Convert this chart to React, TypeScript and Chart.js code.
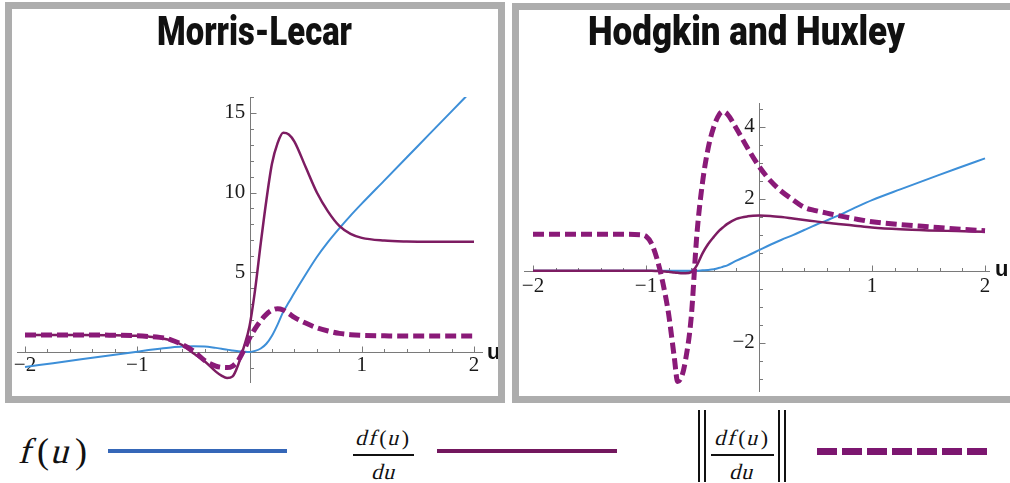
import React, { useEffect, useRef } from 'react';
import { Chart, registerables } from 'chart.js';

Chart.register(...registerables);

// ---------------- Data ----------------
const mlTitle = 'Morris-Lecar';
const hhTitle = 'Hodgkin and Huxley';

const mlU = [-2, -1.75, -1.5, -1.25, -1, -0.9, -0.8, -0.7, -0.6, -0.5, -0.4, -0.3, -0.25, -0.2, -0.15, -0.1, -0.05, 0, 0.05, 0.1, 0.15, 0.2, 0.25, 0.3, 0.35, 0.4, 0.5, 0.6, 0.7, 0.8, 0.9, 1.0, 1.2, 1.4, 1.6, 1.8, 2.0];
const mlF = [-0.96, -0.72, -0.48, -0.24, 0.0, 0.1, 0.19, 0.27, 0.33, 0.35, 0.33, 0.24, 0.19, 0.13, 0.08, 0.03, 0.0, -0.02, 0.05, 0.2, 0.5, 1.0, 1.7, 2.5, 3.1, 3.7, 4.85, 5.95, 6.9, 7.75, 8.55, 9.3, 10.75, 12.2, 13.65, 15.1, 16.55];
const mlDf = [1.05, 1.05, 1.05, 1.04, 1.0, 0.95, 0.87, 0.72, 0.42, -0.1, -0.6, -1.25, -1.5, -1.65, -1.55, -0.8, 0.3, 1.6, 3.9, 6.8, 9.5, 11.8, 13.1, 13.75, 13.65, 13.2, 11.6, 10.0, 8.8, 7.9, 7.4, 7.15, 6.98, 6.92, 6.9, 6.9, 6.9];
const mlAbsDf = [1.05, 1.05, 1.05, 1.04, 1.0, 0.96, 0.9, 0.75, 0.45, 0.05, -0.55, -0.9, -0.98, -1.0, -0.9, -0.55, 0.1, 0.85, 1.45, 1.95, 2.35, 2.6, 2.7, 2.62, 2.4, 2.15, 1.8, 1.5, 1.3, 1.15, 1.07, 1.03, 1.0, 0.98, 0.98, 0.98, 0.98];

const hhU = [-2, -1.5, -1.2, -1.05, -1.0, -0.95, -0.9, -0.85, -0.8, -0.75, -0.72, -0.68, -0.65, -0.6, -0.55, -0.5, -0.45, -0.4, -0.35, -0.32, -0.28, -0.2, -0.1, 0, 0.1, 0.2, 0.3, 0.4, 0.5, 0.6, 0.7, 0.85, 1.0, 1.25, 1.5, 1.75, 2.0];
const hhF = [0, 0, 0, 0, 0, 0, 0, 0, 0, 0, 0, 0, 0, 0, 0, 0.01, 0.02, 0.04, 0.08, 0.11, 0.15, 0.28, 0.42, 0.57, 0.72, 0.86, 0.99, 1.13, 1.27, 1.4, 1.53, 1.75, 1.96, 2.26, 2.55, 2.84, 3.12];
const hhDf = [0, 0, 0, 0, 0, 0, -0.01, -0.02, -0.03, -0.05, -0.06, -0.07, -0.07, -0.04, 0.15, 0.48, 0.74, 0.94, 1.12, 1.2, 1.3, 1.44, 1.51, 1.53, 1.52, 1.49, 1.45, 1.41, 1.37, 1.33, 1.3, 1.25, 1.2, 1.15, 1.12, 1.1, 1.08];
const hhAbsDf = [1.01, 1.01, 1.01, 1.0, 0.96, 0.75, 0.3, -0.35, -1.2, -2.4, -3.08, -2.9, -2.48, -1.3, 1.0, 2.45, 3.4, 4.0, 4.35, 4.42, 4.35, 3.95, 3.4, 2.9, 2.5, 2.2, 1.97, 1.76, 1.67, 1.6, 1.53, 1.44, 1.36, 1.28, 1.22, 1.16, 1.11];

const mlXLabels = [-2, -1, 1, 2];
const mlYLabels = [5, 10, 15];
const hhXLabels = [-2, -1, 1, 2];
const hhYLabels = [-2, 2, 4];

const steps = (from: number, to: number, step: number) => {
  const out: number[] = [];
  const n = Math.round((to - from) / step);
  for (let i = 0; i <= n; i++) {
    const v = Math.round((from + i * step) * 1000) / 1000;
    if (v !== 0) out.push(v);
  }
  return out;
};
const mlXTicks = steps(-2, 2, 0.2);
const mlYTicks = steps(-1, 16, 1);
const hhXTicks = steps(-2, 2, 0.2);
const hhYTicks = steps(-3, 4.5, 0.5);

// ---------------- Styles ----------------
const BLUE = '#3d8fd8';
const PURPLE = '#7d1c62';
const DASHED = '#8a1a78';
const AXIS = '#7a7a7a';
const LEG_BLUE = '#3567b8';
const LEG_PURPLE = '#73175e';
const LEG_DASHED = '#7c1670';
const FRAME = '#adadad';

const fmt = (v: number) => (v < 0 ? '\u2212' + Math.abs(v) : String(v));

type Spec = {
  title: string;
  u: number[]; f: number[]; df: number[]; abs: number[];
  xLabels: number[]; yLabels: number[]; xTicks: number[]; yTicks: number[];
  xMin: number; xMax: number; yMin: number; yMax: number;
  padding: { left: number; right: number; top: number; bottom: number };
  width: number; height: number;
  titleX: number; titleY: number; titleW: number;
  uDx: number; uDy: number; xPad: number;
};

function makeDecor(spec: Spec) {
  return {
    id: 'panelDecor',
    beforeDatasetsDraw(chart: any) {
      const { ctx, chartArea: a, scales } = chart;
      const xs = scales.x, ys = scales.y;
      const x0 = Math.round(xs.getPixelForValue(0)) + 0.5;
      const y0 = Math.round(ys.getPixelForValue(0)) + 0.5;
      ctx.save();
      ctx.strokeStyle = AXIS;
      ctx.lineWidth = 1;
      ctx.beginPath();
      ctx.moveTo(a.left, y0); ctx.lineTo(a.right, y0);
      ctx.moveTo(x0, a.top); ctx.lineTo(x0, a.bottom);
      for (const v of spec.xTicks) {
        const px = Math.round(xs.getPixelForValue(v)) + 0.5;
        const len = spec.xLabels.includes(v) ? 6 : 3.5;
        ctx.moveTo(px, y0); ctx.lineTo(px, y0 - len);
      }
      for (const v of spec.yTicks) {
        const py = Math.round(ys.getPixelForValue(v)) + 0.5;
        const len = spec.yLabels.includes(v) ? 6 : 3.5;
        ctx.moveTo(x0, py); ctx.lineTo(x0 + len, py);
      }
      ctx.stroke();
      ctx.restore();
    },
    afterDraw(chart: any) {
      const { ctx, chartArea: a, scales } = chart;
      const y0 = scales.y.getPixelForValue(0);
      ctx.save();
      ctx.font = '900 41px Roboto, "Liberation Sans", sans-serif';
      ctx.fillStyle = '#111';
      ctx.textBaseline = 'alphabetic';
      ctx.textAlign = 'left';
      const w = ctx.measureText(spec.title).width;
      ctx.translate(spec.titleX, spec.titleY);
      ctx.scale(spec.titleW / w, 1);
      ctx.fillText(spec.title, -w / 2, 0);
      ctx.restore();
      ctx.save();
      ctx.font = 'bold 22px "Liberation Sans", Arial, sans-serif';
      ctx.fillStyle = '#111';
      ctx.textBaseline = 'alphabetic';
      ctx.textAlign = 'left';
      ctx.fillText('u', a.right + spec.uDx, y0 + spec.uDy);
      ctx.restore();
    },
  };
}

function makeConfig(spec: Spec): any {
  const pts = (ys: number[]) => spec.u.map((u, i) => ({ x: u, y: ys[i] }));
  const tickFont = { family: '"Liberation Serif", "Times New Roman", serif', size: 21 };
  return {
    type: 'line',
    data: {
      datasets: [
        { label: 'f(u)', data: pts(spec.f), borderColor: BLUE, borderWidth: 2, pointRadius: 0, fill: false, cubicInterpolationMode: 'monotone', order: 3 },
        { label: 'df/du', data: pts(spec.df), borderColor: PURPLE, borderWidth: 2.5, pointRadius: 0, fill: false, cubicInterpolationMode: 'monotone', order: 2 },
        { label: '||df/du||', data: pts(spec.abs), borderColor: DASHED, borderWidth: 5, borderDash: [11, 5], pointRadius: 0, fill: false, cubicInterpolationMode: 'monotone', order: 1 },
      ],
    },
    options: {
      animation: false,
      responsive: false,
      maintainAspectRatio: false,
      events: [],
      layout: { padding: spec.padding },
      plugins: { legend: { display: false }, tooltip: { enabled: false }, title: { display: false } },
      scales: {
        x: {
          type: 'linear',
          min: spec.xMin, max: spec.xMax,
          position: { y: 0 },
          grid: { display: false, drawTicks: false },
          border: { display: false },
          afterFit: (s: any) => { s.height = 0; s.paddingLeft = 0; s.paddingRight = 0; s.paddingTop = 0; s.paddingBottom = 0; },
          afterBuildTicks: (s: any) => { s.ticks = spec.xLabels.map((v) => ({ value: v })); },
          ticks: { autoSkip: false, maxRotation: 0, padding: spec.xPad, font: tickFont, color: '#1a1a1a', callback: (v: number) => fmt(v) },
        },
        y: {
          type: 'linear',
          min: spec.yMin, max: spec.yMax,
          position: { x: 0 },
          grid: { display: false, drawTicks: false },
          border: { display: false },
          afterFit: (s: any) => { s.width = 0; s.paddingLeft = 0; s.paddingRight = 0; s.paddingTop = 0; s.paddingBottom = 0; },
          afterBuildTicks: (s: any) => { s.ticks = spec.yLabels.map((v) => ({ value: v })); },
          ticks: { autoSkip: false, padding: 4, font: tickFont, color: '#1a1a1a', callback: (v: number) => fmt(v) + '\u2009' },
        },
      },
    },
    plugins: [makeDecor(spec)],
  };
}

const mlSpec: Spec = {
  title: mlTitle, u: mlU, f: mlF, df: mlDf, abs: mlAbsDf,
  xLabels: mlXLabels, yLabels: mlYLabels, xTicks: mlXTicks, yTicks: mlYTicks,
  xMin: -2.0713, xMax: 2.08, yMin: -1.966, yMax: 16,
  padding: { left: 5, right: 15, top: 88, bottom: 13 },
  width: 486, height: 387,
  titleX: 242.5, titleY: 36, titleW: 195,
  uDx: 4, uDy: 7, xPad: 1,
};

const hhSpec: Spec = {
  title: hhTitle, u: hhU, f: hhF, df: hhDf, abs: hhAbsDf,
  xLabels: hhXLabels, yLabels: hhYLabels, xTicks: hhXTicks, yTicks: hhYTicks,
  xMin: -2.0796, xMax: 2.044, yMin: -3.369, yMax: 4.658,
  padding: { left: 5, right: 29, top: 93, bottom: 4 },
  width: 500, height: 386,
  titleX: 227.5, titleY: 35, titleW: 317,
  uDx: 5, uDy: 5.5, xPad: 3,
};

function Panel({ spec, left, top }: { spec: Spec; left: number; top: number }) {
  const ref = useRef<HTMLCanvasElement>(null);
  useEffect(() => {
    const chart = new Chart(ref.current as HTMLCanvasElement, makeConfig(spec));
    return () => chart.destroy();
  }, [spec]);
  return (
    <div style={{ position: 'absolute', left, top, border: `7px solid ${FRAME}`, background: '#fff', width: spec.width, height: spec.height }}>
      <canvas ref={ref} width={spec.width} height={spec.height} style={{ display: 'block', width: spec.width, height: spec.height }} />
    </div>
  );
}

const SERIF = '"Liberation Serif", "Times New Roman", serif';

function TextAt({ cx, baseline, size, children, spacing = 0 }: any) {
  return (
    <div style={{ position: 'absolute', left: cx - 80, width: 160, top: baseline - 0.8375 * size, fontSize: size, lineHeight: `${size}px`, fontFamily: SERIF, textAlign: 'center', color: '#111', letterSpacing: spacing, whiteSpace: 'nowrap' }}>
      {children}
    </div>
  );
}

// slanted serif letter (math italic look)
function I({ children }: any) {
  return <span style={{ display: 'inline-block', transform: 'skewX(-15deg)', fontFamily: SERIF, fontStyle: 'normal' }}>{children}</span>;
}

function Rule({ left, top, width, height, color = '#111' }: any) {
  return <div style={{ position: 'absolute', left, top, width, height, background: color }} />;
}

const DFU = (
  <>
    <I>d</I><I>f</I>(<I>u</I>)
  </>
);
const DU = (
  <>
    <I>d</I><I>u</I>
  </>
);

export default function App() {
  return (
    <div style={{ position: 'absolute', left: 0, top: 0, width: 1010, height: 483, overflow: 'hidden', background: '#fff' }}>
      <Panel spec={mlSpec} left={5} top={2} />
      <Panel spec={hhSpec} left={512} top={3} />

      {/* legend: f(u) */}
      <TextAt cx={56} baseline={463} size={36} spacing={4}>
        <I>f</I>(<I>u</I>)
      </TextAt>
      <Rule left={108} top={449} width={179} height={4} color={LEG_BLUE} />

      {/* legend: df/du */}
      <TextAt cx={384} baseline={445} size={22} spacing={2}>{DFU}</TextAt>
      <Rule left={353} top={454} width={61} height={1.5} />
      <TextAt cx={385} baseline={479} size={22} spacing={1}>{DU}</TextAt>
      <Rule left={437} top={449} width={180} height={4} color={LEG_PURPLE} />

      {/* legend: ||df/du|| */}
      <Rule left={698} top={410} width={1.5} height={72} />
      <Rule left={704} top={410} width={1.5} height={72} />
      <TextAt cx={743} baseline={445} size={22} spacing={2}>{DFU}</TextAt>
      <Rule left={711} top={454} width={63} height={1.5} />
      <TextAt cx={743} baseline={479} size={22} spacing={1}>{DU}</TextAt>
      <Rule left={778} top={410} width={1.5} height={72} />
      <Rule left={784} top={410} width={1.5} height={72} />
      <div style={{ position: 'absolute', left: 817, top: 447.5, width: 170, height: 7, background: `repeating-linear-gradient(to right, ${LEG_DASHED} 0px, ${LEG_DASHED} 20px, transparent 20px, transparent 25px)` }} />
    </div>
  );
}
